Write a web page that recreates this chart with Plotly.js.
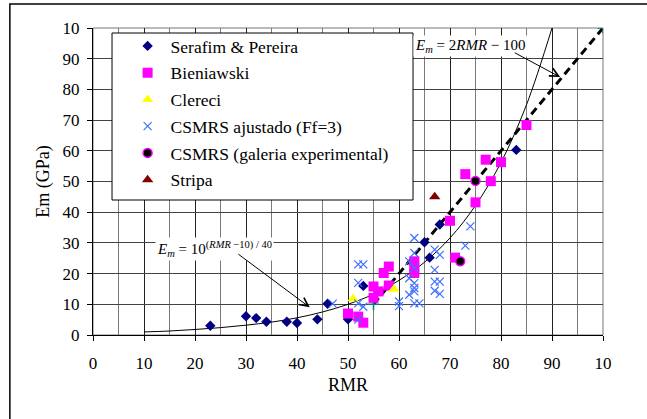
<!DOCTYPE html>
<html>
<head>
<meta charset="utf-8">
<script src="https://cdn.plot.ly/plotly-3.0.1.min.js"></script>
<style>
  html, body { margin: 0; padding: 0; background: #fff; }
  #chart { width: 647px; height: 419px; }
</style>
</head>
<body>
<div id="chart"></div>
<script>
// ---- data ----
var tickVals = [0, 10, 20, 30, 40, 50, 60, 70, 80, 90, 100];
var tickText = ["0", "10", "20", "30", "40", "50", "60", "70", "80", "90", "10"];

var serafimRMR = [23, 30, 32, 34, 38, 40, 44, 46, 50, 53, 65, 66, 68, 83];
var serafimEm  = [3, 6.1, 5.5, 4.3, 4.3, 3.9, 5.1, 10.2, 5.1, 16, 30.2, 25.2, 36, 60.3];

var bieniRMR = [50, 52, 53, 55, 55, 56, 57, 58, 58, 63, 63, 63, 70, 71, 73, 75, 77, 78, 80, 85];
var bieniEm  = [7, 6, 4, 15.8, 12.1, 14.2, 20.2, 22.3, 16.1, 24, 22, 20.2, 37.2, 25.2, 52.4, 43.2, 57.1, 50.1, 56.3, 68.4];

var clereciRMR = [51, 59];
var clereciEm  = [11.8, 14.9];

var csmrsRMR = [47, 52, 53, 52, 52, 53, 52, 60, 60, 62, 63, 63, 62, 63, 62, 63, 63, 63, 63, 64, 67, 68, 67, 67, 68, 67, 68, 73, 74];
var csmrsEm  = [10.2, 23, 23, 17, 10.3, 9.2, 5, 10.9, 9.4, 24, 31.6, 26.7, 18.5, 21.8, 13.1, 16.9, 15.3, 14.2, 10.3, 10.3, 27.8, 26.1, 21.2, 17.4, 17.4, 14.4, 13.4, 29.1, 35.4];

var galeriaRMR = [72, 75];
var galeriaEm  = [24, 50.2];

var stripaRMR = [67];
var stripaEm  = [45];

// solid curve Em = 10^((RMR-10)/40)
var curveRMR = [10, 15, 20, 25, 30, 35, 40, 45, 50, 55, 60, 65, 70, 75, 80, 85, 90];
var curveEm  = [1.0, 1.3, 1.8, 2.4, 3.2, 4.2, 5.6, 7.5, 10, 13.3, 17.8, 23.7, 31.6, 42.2, 56.2, 75, 100];

// dashed line Em = 2RMR - 100
var lineRMR = [55, 100];
var lineEm  = [10, 100];

var serif = "Liberation Serif";

var traces = [
  {x: curveRMR, y: curveEm, mode: "lines", line: {color: "#000", width: 1, shape: "spline"}, showlegend: false, hoverinfo: "skip"},
  {x: lineRMR, y: lineEm, mode: "lines+markers", line: {color: "#000", width: 3, dash: "8px,5px"},
   marker: {symbol: "cross-thin", size: 8, line: {color: "#008080", width: 1.5}, color: "#008080"}, showlegend: false},
  {x: serafimRMR, y: serafimEm, name: "Serafim & Pereira", legendgroup: "a", mode: "markers",
   marker: {symbol: "diamond", size: 8, color: "#000080"}},
  {x: bieniRMR, y: bieniEm, name: "Bieniawski", legendgroup: "b", mode: "markers",
   marker: {symbol: "square", size: 10, color: "#FF00FF"}},
  {x: clereciRMR, y: clereciEm, name: "Clereci", legendgroup: "c", mode: "markers",
   marker: {symbol: "triangle-up", size: 10, color: "#FFFF00"}},
  {x: csmrsRMR, y: csmrsEm, name: "CSMRS ajustado (Ff=3)", legendgroup: "d", mode: "markers",
   marker: {symbol: "x-thin", size: 8, color: "#3F6FFF", line: {color: "#3F6FFF", width: 1.2}}},
  {x: galeriaRMR, y: galeriaEm, name: "CSMRS (galeria experimental)", legendgroup: "e", mode: "markers",
   marker: {symbol: "circle", size: 9, color: "#000", line: {color: "#FF00FF", width: 1.5}}},
  {x: stripaRMR, y: stripaEm, name: "Stripa", legendgroup: "f", mode: "markers",
   marker: {symbol: "triangle-up", size: 10, color: "#800000"}}
];

var layout = {
  width: 647, height: 419,
  margin: {l: 93, r: 44, t: 28, b: 84, pad: 0},
  paper_bgcolor: "#fff", plot_bgcolor: "#fff",
  font: {family: serif, size: 17, color: "#000"},
  showlegend: true,
  legend: {
    x: 0.062, y: 1.0, xanchor: "left", yanchor: "top",
    bgcolor: "rgba(0,0,0,0)", borderwidth: 0,
    font: {family: serif, size: 17.5, color: "#000"},
    tracegroupgap: 1, traceorder: "grouped", itemwidth: 36
  },
  xaxis: {
    range: [0, 100], tickvals: tickVals, ticktext: tickText,
    tickfont: {family: serif, size: 17},
    ticks: "outside", ticklen: 5, tickcolor: "#000", ticklabelstandoff: 8,
    showline: true, linecolor: "#000", linewidth: 1, mirror: false,
    showgrid: true, gridcolor: "#222", gridwidth: 1,
    minor: {dtick: 5, showgrid: true, gridcolor: "#7a7a7a", gridwidth: 1},
    zeroline: false,
    title: {text: "RMR", font: {family: serif, size: 18}, standoff: 5}
  },
  yaxis: {
    range: [0, 100], tickvals: tickVals, ticktext: tickText,
    tickfont: {family: serif, size: 17},
    ticks: "outside", ticklen: 5, tickcolor: "#000", ticklabelstandoff: 4,
    showline: true, linecolor: "#000", linewidth: 1,
    showgrid: true, gridcolor: "#444", gridwidth: 1,
    zeroline: false,
    title: {text: "Em (GPa)", font: {family: serif, size: 18}, standoff: 8}
  },
  shapes: [
    {type: "rect", xref: "paper", yref: "paper", x0: 0, x1: 1, y0: 0, y1: 1, line: {color: "#777", width: 1}, layer: "below"},
    {type: "rect", xref: "paper", yref: "paper", x0: 0.0373, x1: 0.6275, y0: 0.4397, y1: 0.9837,
     fillcolor: "#fff", line: {color: "#000", width: 1}, layer: "above"},
    {type: "rect", xref: "paper", yref: "paper", x0: -0.163, x1: 1.2, y0: -0.5, y1: 1.078,
     line: {color: "#000", width: 1.5}, fillcolor: "rgba(0,0,0,0)", layer: "above"}
  ],
  annotations: [
    {x: 74, y: 94.2, xref: "x", yref: "y", showarrow: false,
     text: "<i>E</i><sub><i>m</i></sub> = 2<i>RMR</i> − 100",
     font: {family: serif, size: 15}, bgcolor: "#fff"},
    {x: 91.6, y: 84, ax: 82.4, ay: 92.2, xref: "x", yref: "y", axref: "x", ayref: "y",
     text: "", showarrow: true, arrowhead: 5, arrowsize: 1.7, arrowwidth: 1, arrowcolor: "#000"},
    {x: 23.9, y: 28, xref: "x", yref: "y", showarrow: false,
     text: "<i>E</i><sub><i>m</i></sub> = 10<sup>(<i>RMR</i> −10) / 40</sup>",
     font: {family: serif, size: 15}, bgcolor: "#fff"},
    {x: 42.5, y: 9, ax: 28.2, ay: 26.7, xref: "x", yref: "y", axref: "x", ayref: "y",
     text: "", showarrow: true, arrowhead: 5, arrowsize: 1.7, arrowwidth: 1, arrowcolor: "#000"}
  ]
};

Plotly.newPlot("chart", traces, layout, {displayModeBar: false, staticPlot: true});
</script>
</body>
</html>
